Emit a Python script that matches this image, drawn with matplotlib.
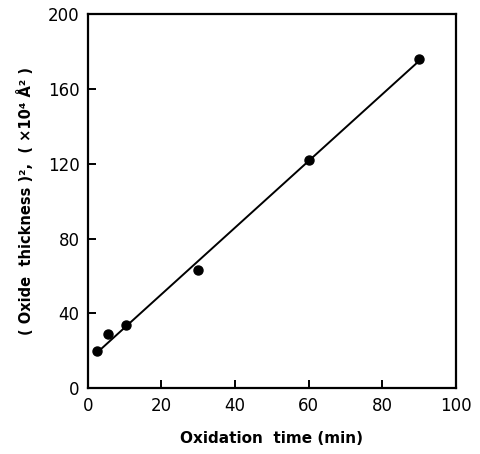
import matplotlib.pyplot as plt

# oxidation data
time_min = [2.5, 5.5, 10.5, 30, 60, 90]
thickness_sq = [20, 29, 34, 63, 122, 176]

# fitted straight line
fit_x = [2.5, 90]
fit_y = [19, 175]

x_ticks = [0, 20, 40, 60, 80, 100]
y_ticks = [0, 40, 80, 120, 160, 200]

fig = plt.figure(figsize=(4.8, 4.54), dpi=100)
ax = fig.add_axes([0.183, 0.145, 0.767, 0.824])

ax.plot(fit_x, fit_y, color='black', linewidth=1.4)
ax.plot(time_min, thickness_sq, 'o', color='black', markersize=6.5)

ax.set_xlim(0, 100)
ax.set_ylim(0, 200)
ax.set_xticks(x_ticks)
ax.set_yticks(y_ticks)
ax.tick_params(direction='in', length=6, width=1.4, labelsize=12, pad=6,
               top=False, right=False)
for side in ax.spines.values():
  side.set_linewidth(1.6)

ax.set_xlabel('Oxidation  time (min)', fontsize=11, labelpad=12,
              fontweight='semibold')
ax.set_ylabel('( Oxide  thickness )²,  ( ×10⁴ Å² )', fontsize=10.5,
              labelpad=10, fontweight='semibold')

plt.savefig('out.png', dpi=100)
